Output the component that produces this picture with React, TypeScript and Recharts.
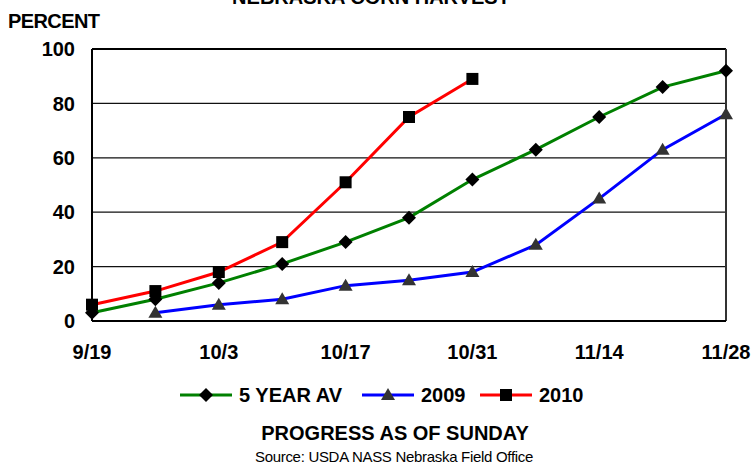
import React from "react";
import {
	CartesianGrid,
	Line,
	LineChart,
	ReferenceLine,
	XAxis,
	YAxis,
} from "recharts";

const categories = ["9/19", "9/26", "10/3", "10/10", "10/17", "10/24", "10/31", "11/7", "11/14", "11/21", "11/28"];
const fiveYearAvg = [3, 8, 14, 21, 29, 38, 52, 63, 75, 86, 92];
const year2009 = [null, 3, 6, 8, 13, 15, 18, 28, 45, 63, 76];
const year2010 = [6, 11, 18, 29, 51, 75, 89, null, null, null, null];
const yTicks = [0, 20, 40, 60, 80, 100];

const chartData = categories.map((date, i) => ({
	date,
	avg: fiveYearAvg[i],
	y2009: year2009[i],
	y2010: year2010[i],
}));

const FONT = '"Liberation Sans", Arial, sans-serif';

type Marker = "diamond" | "triangle" | "square";

function drawMarker(kind: Marker, cx: number, cy: number, key?: React.Key) {
	if (kind === "diamond") {
		return <path key={key} d={`M${cx},${cy - 7}L${cx + 7},${cy}L${cx},${cy + 7}L${cx - 7},${cy}Z`} fill="#000" />;
	}
	if (kind === "triangle") {
		return <path key={key} d={`M${cx},${cy - 7}L${cx + 7},${cy + 5}L${cx - 7},${cy + 5}Z`} fill="#333" />;
	}
	return <rect key={key} x={cx - 6} y={cy - 6} width={12} height={12} fill="#000" />;
}

const makeDot = (kind: Marker) => (props: any) => {
	const { cx, cy, index, value } = props;
	if (cx == null || cy == null || value == null) return <g key={index} />;
	return drawMarker(kind, cx, cy, index);
};

const series: { key: string; name: string; color: string; marker: Marker }[] = [
	{ key: "avg", name: "5 YEAR AV", color: "#008000", marker: "diamond" },
	{ key: "y2009", name: "2009", color: "#0000ff", marker: "triangle" },
	{ key: "y2010", name: "2010", color: "#ff0000", marker: "square" },
];

// legend item starting x positions (layout only)
const legendX = [180, 362, 480];

export default function App() {
	return (
		<div style={{ position: "absolute", top: 0, left: 0, width: 754, height: 465, background: "#fff", fontFamily: FONT }}>
			<LineChart
				width={754}
				height={465}
				data={chartData}
				margin={{ top: 49, right: 28, left: 32, bottom: 114 }}
			>
				<CartesianGrid vertical={false} stroke="#111" strokeWidth={1.3} />
				<XAxis
					dataKey="date"
					interval={1}
					height={30}
					axisLine={{ stroke: "#000", strokeWidth: 2 }}
					tickLine={false}
					tickSize={0}
					tickMargin={24}
					tick={{ fill: "#000", fontSize: 20, fontWeight: "bold", fontFamily: FONT }}
				/>
				<YAxis
					domain={[0, 100]}
					ticks={yTicks}
					width={60}
					axisLine={{ stroke: "#000", strokeWidth: 2 }}
					tickLine={false}
					tickSize={0}
					tickMargin={17}
					tick={{ fill: "#000", fontSize: 20, fontWeight: "bold", fontFamily: FONT }}
				/>
				<ReferenceLine y={100} stroke="#000" strokeWidth={2} />
				<ReferenceLine x="11/28" stroke="#333" strokeWidth={2} />
				{series.map((s) => (
					<Line
						key={s.key}
						dataKey={s.key}
						name={s.name}
						stroke={s.color}
						strokeWidth={3}
						dot={makeDot(s.marker)}
						activeDot={false}
						isAnimationActive={false}
					/>
				))}
			</LineChart>
			<svg
				width={754}
				height={465}
				style={{ position: "absolute", top: 0, left: 0, pointerEvents: "none" }}
				fontFamily={FONT}
			>
				<text x={371} y={4} textAnchor="middle" fontSize={20} fontWeight="bold">
					NEBRASKA CORN HARVEST
				</text>
				<text x={8} y={28} fontSize={20} fontWeight="bold" letterSpacing={-0.6}>
					PERCENT
				</text>
				{series.map((s, i) => (
					<g key={s.key}>
						<line x1={legendX[i]} x2={legendX[i] + 52} y1={395} y2={395} stroke={s.color} strokeWidth={3} />
						{drawMarker(s.marker, legendX[i] + 26, 395)}
						<text x={legendX[i] + 59} y={402} fontSize={20} fontWeight="bold">
							{s.name}
						</text>
					</g>
				))}
				<text x={395} y={440} textAnchor="middle" fontSize={20} fontWeight="bold">
					PROGRESS AS OF SUNDAY
				</text>
				<text x={394} y={462} textAnchor="middle" fontSize={15} letterSpacing={-0.3}>
					Source: USDA NASS Nebraska Field Office
				</text>
			</svg>
		</div>
	);
}
